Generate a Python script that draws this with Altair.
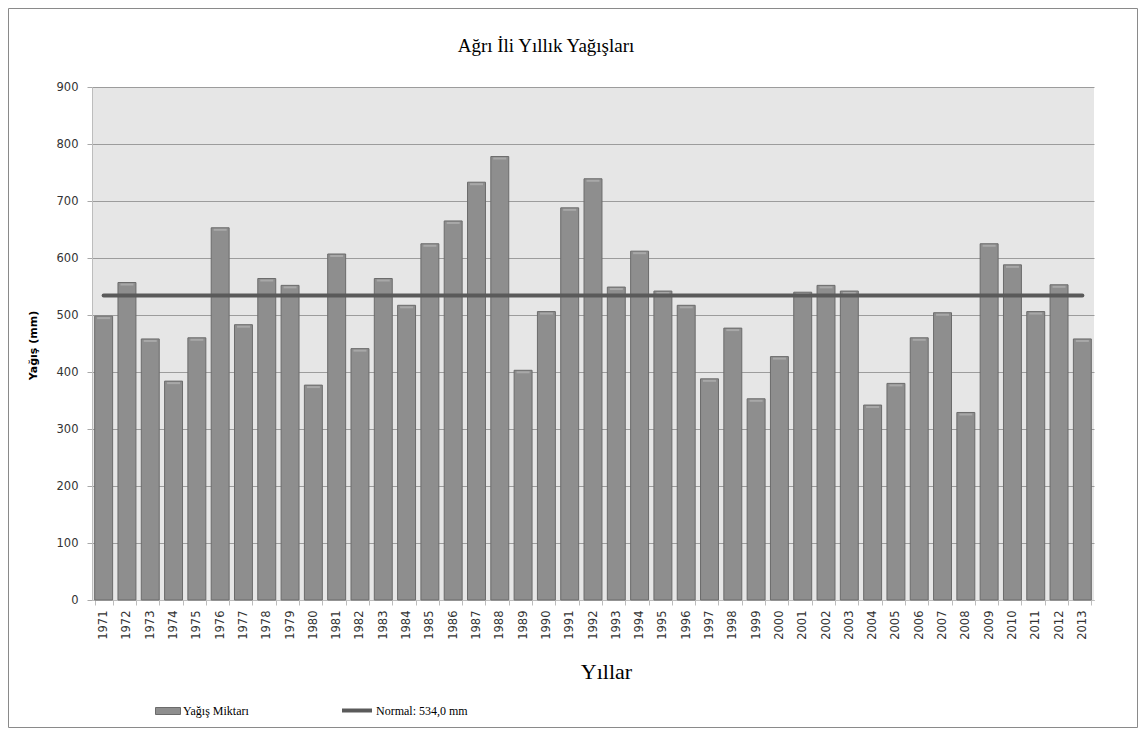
import altair as alt
import pandas as pd

years = ["1971", "1972", "1973", "1974", "1975", "1976", "1977", "1978", "1979", "1980",
         "1981", "1982", "1983", "1984", "1985", "1986", "1987", "1988", "1989", "1990",
         "1991", "1992", "1993", "1994", "1995", "1996", "1997", "1998", "1999", "2000",
         "2001", "2002", "2003", "2004", "2005", "2006", "2007", "2008", "2009", "2010",
         "2011", "2012", "2013"]
rain = [498, 557, 458, 384, 460, 653, 483, 564, 552, 377,
        607, 441, 564, 517, 625, 665, 733, 778, 403, 506,
        688, 739, 549, 612, 542, 517, 388, 477, 353, 427,
        540, 552, 542, 342, 380, 460, 504, 329, 625, 588,
        506, 553, 458]
normal_value = 534.0
y_ticks = [0, 100, 200, 300, 400, 500, 600, 700, 800, 900]

title_text = "Ağrı İli Yıllık Yağışları"
bar_series = "Yağış Miktarı"
line_series = "Normal: 534,0 mm"

df = pd.DataFrame({"Yıl": years, "Yağış": rain, "seri": [bar_series] * len(years)})
df_line = pd.DataFrame({"Yıl": years, "Normal": [normal_value] * len(years),
                        "seri2": [line_series] * len(years)})

x_enc = alt.X(
    "Yıl:N", sort=years,
    scale=alt.Scale(paddingInner=0.23, paddingOuter=0.115),
    axis=alt.Axis(
        labelAngle=270, labelAlign="right", labelBaseline="middle", labelPadding=5,
        labelFont="DejaVu Sans", labelFontSize=11.5, labelColor="#333333",
        tickBand="extent", tickSize=5, tickColor="#bdbdbd", domainColor="#bdbdbd",
        grid=False, title="Yıllar", titleFont="Liberation Serif", titleFontSize=22,
        titleFontWeight="normal", titleColor="black", titleX=514, titleY=78,
        titleBaseline="alphabetic", titleAlign="center",
    ),
)
y_enc = alt.Y(
    "Yağış:Q",
    scale=alt.Scale(domain=[0, 900], nice=False),
    axis=alt.Axis(
        values=y_ticks, title="Yağış (mm)", titleFont="DejaVu Sans", titleFontWeight="bold",
        titleFontSize=11, titleColor="black", titleAngle=270, titleX=-59, titleY=258,
        titleAlign="center", titleBaseline="middle",
        labelFont="DejaVu Sans", labelFontSize=11.5, labelColor="#333333", labelPadding=9,
        tickSize=5, tickColor="#a8a8a8", domainColor="#bdbdbd",
        gridColor="#9c9c9c", gridWidth=1,
    ),
)

bars = alt.Chart(df).mark_bar(stroke="#6b6b6b", strokeWidth=1).encode(
    x=x_enc,
    y=y_enc,
    fill=alt.Fill(
        "seri:N",
        scale=alt.Scale(domain=[bar_series], range=["#8e8e8e"]),
        legend=alt.Legend(
            orient="none", legendX=63, legendY=611, title=None, padding=0,
            symbolType="M-1,-0.28H1V0.28H-1Z", symbolSize=625,
            symbolStrokeColor="#6b6b6b", symbolStrokeWidth=1,
            labelFont="Liberation Serif", labelFontSize=12, labelColor="black", labelOffset=2,
        ),
    ),
)

caps = alt.Chart(df).mark_tick(color="#b4b4b4", thickness=2, size=13, yOffset=2).encode(
    x=alt.X("Yıl:N", sort=years),
    y=alt.Y("Yağış:Q"),
)

line = alt.Chart(df_line).mark_line(strokeWidth=4, strokeCap="round").encode(
    x=alt.X("Yıl:N", sort=years),
    y=alt.Y("Normal:Q"),
    stroke=alt.Stroke(
        "seri2:N",
        scale=alt.Scale(domain=[line_series], range=["#5a5a5a"]),
        legend=alt.Legend(
            orient="none", legendX=248, legendY=606.5, title=None, padding=0,
            symbolType="stroke", symbolSize=900, symbolStrokeWidth=4,
            labelFont="Liberation Serif", labelFontSize=12, labelColor="black", labelOffset=2,
        ),
    ),
)

title_mark = alt.Chart(pd.DataFrame({"t": [title_text]})).mark_text(
    font="Liberation Serif", fontSize=19, align="center", baseline="alphabetic", color="black"
).encode(text="t:N", x=alt.value(454), y=alt.value(-35))

border = alt.Chart(pd.DataFrame({"b": [0]})).mark_rect(
    fillOpacity=0, stroke="#8a8a8a", strokeWidth=1
).encode(x=alt.value(-83.5), x2=alt.value(1045.5), y=alt.value(-78.5), y2=alt.value(640.5))

chart = alt.layer(bars, caps, line, title_mark, border).properties(
    width=1002, height=513,
    autosize=alt.AutoSizeParams(type="none"),
    padding={"left": 84, "top": 79, "right": 44, "bottom": 128},
    background="white",
).configure_view(
    fill="#e6e6e6", strokeWidth=0
).configure_legend(
    labelFont="Liberation Serif", labelFontSize=12, labelColor="black"
)

chart.save("out.html", embed_options={"renderer": "svg", "actions": False})
